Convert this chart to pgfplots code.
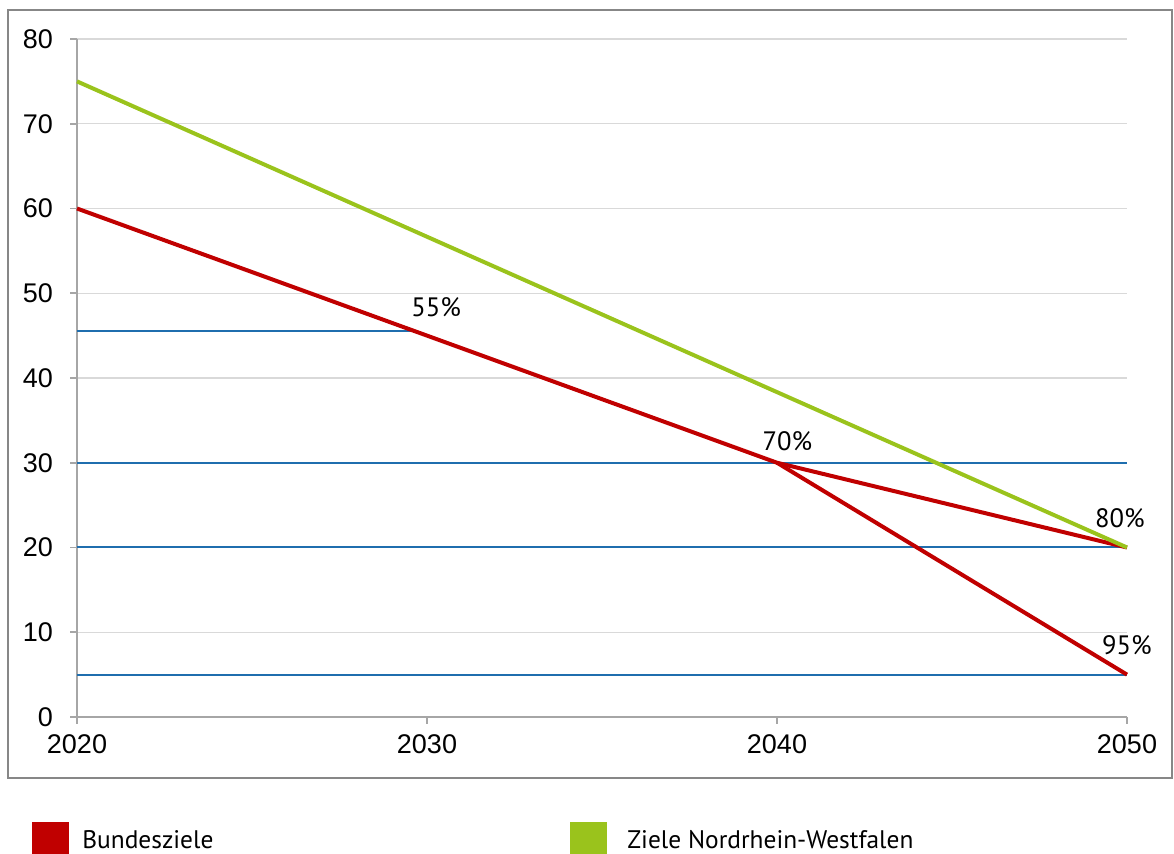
\documentclass[border=0pt]{standalone}
\usepackage{fontspec}
\setmainfont{Liberation Sans}
\newfontfamily\lab{PT Sans}
\usepackage{pgfplots}
\pgfplotsset{compat=1.18}
\definecolor{redl}{HTML}{C00000}
\definecolor{greenl}{HTML}{9AC31C}
\definecolor{bluel}{HTML}{1F6EAE}
\definecolor{gridc}{HTML}{D9D9D9}
\definecolor{axc}{HTML}{A6A6A6}
\definecolor{framec}{HTML}{878787}
\begin{document}
\begin{tikzpicture}[x=0.5pt,y=0.5pt]
\path[use as bounding box] (0,0) rectangle (1174,854);
\draw[framec, line width=1.1pt] (8,76) rectangle (1172,844);
\begin{axis}[
  at={(38.5pt,68.5pt)}, anchor=south west,
  scale only axis, width=525pt, height=339pt,
  xmin=2020, xmax=2050, ymin=0, ymax=80,
  xtick={2020,2030,2040,2050}, ytick={0,10,...,80},
  xticklabel style={/pgf/number format/1000 sep={}, font=\fontsize{13.5}{15}\selectfont, yshift=-2pt},
  yticklabel style={font=\fontsize{13.5}{15}\selectfont, xshift=-5pt},
  /pgf/number format/assume math mode=true,
  axis x line*=bottom, axis y line*=left,
  axis line style={axc, line width=0.8pt, -},
  ymajorgrids, grid style={gridc, line width=0.6pt},
  tick style={axc, line width=0.8pt},
  tick align=outside, major tick length=3.5pt,
  clip=false,
]
\addplot[bluel, line width=1pt] coordinates {(2020,45.5) (2029.66,45.5)};
\addplot[bluel, line width=1pt] coordinates {(2020,30) (2050,30)};
\addplot[bluel, line width=1pt] coordinates {(2020,20) (2050,20)};
\addplot[bluel, line width=1pt] coordinates {(2020,5) (2050,5)};
\addplot[redl, line width=2pt] coordinates {(2020,60) (2040,30) (2050,20)};
\addplot[redl, line width=2pt] coordinates {(2040,30) (2050,5)};
\addplot[greenl, line width=2pt] coordinates {(2020,75) (2050,20)};
\node[font=\lab\fontsize{13.3}{16}\selectfont] at (axis cs:2030.26,48.4) {55\%};
\node[font=\lab\fontsize{13.3}{16}\selectfont] at (axis cs:2040.3,32.6) {70\%};
\node[font=\lab\fontsize{13.3}{16}\selectfont] at (axis cs:2049.8,23.5) {80\%};
\node[font=\lab\fontsize{13.3}{16}\selectfont] at (axis cs:2050.0,8.5) {95\%};
\end{axis}
\fill[redl] (32,0) rectangle (69,32);
\node[anchor=base west, font=\lab\fontsize{12.7}{15}\selectfont, inner sep=0pt] at (82,5) {Bundesziele};
\fill[greenl] (570,0) rectangle (607,32);
\node[anchor=base west, font=\lab\fontsize{12.7}{15}\selectfont, inner sep=0pt] at (627,5) {Ziele Nordrhein-Westfalen};
\end{tikzpicture}
\end{document}
